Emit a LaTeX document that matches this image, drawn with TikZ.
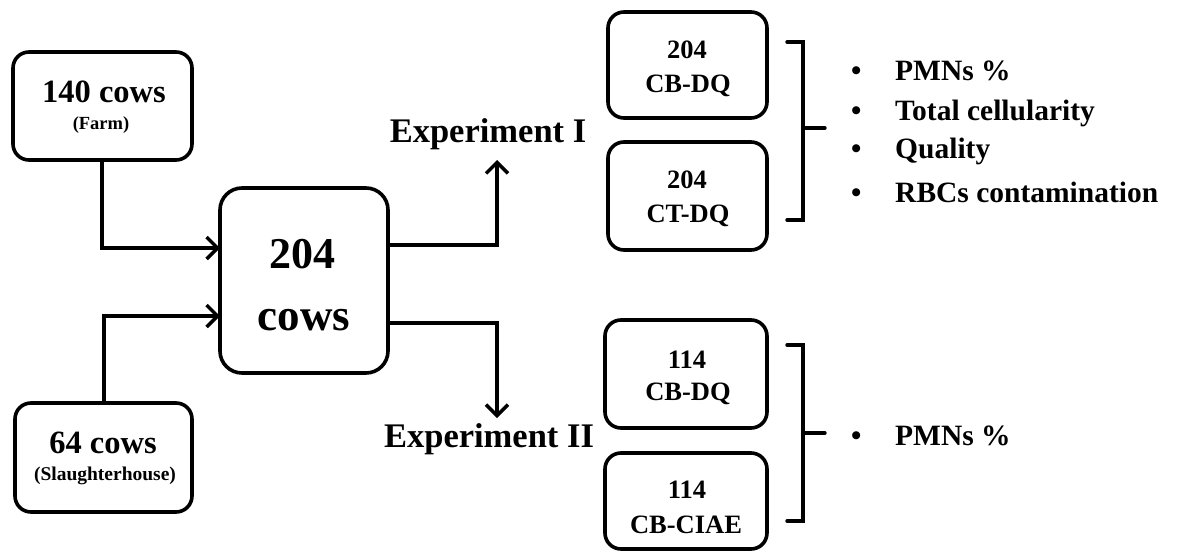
\documentclass[tikz,border=0pt]{standalone}
\usepackage{fontspec}
\setmainfont{Liberation Serif}
\usetikzlibrary{arrows.meta}
\begin{document}
\begin{tikzpicture}[x=1pt,y=-1pt,
  box/.style={draw,line width=3.6pt,rounded corners=16pt,inner sep=0pt},
  lbl/.style={inner sep=0pt,anchor=base,font=\bfseries},
  item/.style={inner sep=0pt,anchor=base west,font=\bfseries\fontsize{29.5}{32}\selectfont},
  conn/.style={line width=3.4pt},
  arr/.style={conn,-{Straight Barb[length=11pt,width=22pt]}},
  brk/.style={line width=3.4pt,line cap=round}]
\fill[white] (0,0) rectangle (1179,557);
\useasboundingbox (0,0) rectangle (1179,557);
% boxes
\node[box,minimum width=179pt,minimum height=108pt] (farm) at (102.5,106) {};
\node[box,minimum width=177pt,minimum height=109pt] (slaug) at (103.5,457.5) {};
\node[box,rounded corners=22pt,minimum width=168pt,minimum height=185pt] (main) at (304,280.5) {};
\node[box,minimum width=159pt,minimum height=106pt] (b1) at (687.5,65) {};
\node[box,minimum width=159pt,minimum height=108pt] (b2) at (687.5,196) {};
\node[box,minimum width=162pt,minimum height=108pt] (b3) at (686,374) {};
\node[box,minimum width=162pt,minimum height=96pt] (b4) at (686,501) {};
% box texts
\node[lbl,font=\bfseries\fontsize{32.5}{34}\selectfont] (t1) at (104,102) {140 cows};
\node[lbl,font=\bfseries\fontsize{18.5}{20}\selectfont] (t2) at (101,129) {(Farm)};
\node[lbl,font=\bfseries\fontsize{32.5}{34}\selectfont] (t3) at (103,453) {64 cows};
\node[lbl,font=\bfseries\fontsize{19.5}{21}\selectfont] (t4) at (105,480) {(Slaughterhouse)};
\node[lbl,font=\bfseries\fontsize{44}{45}\selectfont] (t5) at (302,268) {204};
\node[lbl,font=\bfseries\fontsize{45}{46}\selectfont] (t6) at (304,330) {cows};
\node[lbl,font=\bfseries\fontsize{26.5}{28}\selectfont] (t7) at (687,58) {204};
\node[lbl,font=\bfseries\fontsize{26.5}{28}\selectfont] (t8) at (688,92) {CB-DQ};
\node[lbl,font=\bfseries\fontsize{26.5}{28}\selectfont] (t9) at (687,188) {204};
\node[lbl,font=\bfseries\fontsize{26.5}{28}\selectfont] (t10) at (688,222) {CT-DQ};
\node[lbl,font=\bfseries\fontsize{26.5}{28}\selectfont] (t11) at (687,368) {114};
\node[lbl,font=\bfseries\fontsize{26.5}{28}\selectfont] (t12) at (688,400) {CB-DQ};
\node[lbl,font=\bfseries\fontsize{26.5}{28}\selectfont] (t13) at (687,498) {114};
\node[lbl,font=\bfseries\fontsize{26.5}{28}\selectfont] (t14) at (686,533) {CB-CIAE};
% experiment labels
\node[lbl,font=\bfseries\fontsize{34.5}{36}\selectfont] (exp1) at (488,142) {Experiment I};
\node[lbl,font=\bfseries\fontsize{34.5}{36}\selectfont] (exp2) at (489,447) {Experiment II};
% connectors
\coordinate (inA) at (220,248);
\coordinate (inB) at (220,316);
\coordinate (outA) at (388,245);
\coordinate (tipA) at (497,160);
\coordinate (outB) at (388,323);
\coordinate (tipB) at (497,418);
\draw[arr] (farm.south -| 102,0) |- (inA);
\draw[arr] (slaug.north -| 104,0) |- (inB);
\draw[arr] (outA) -| (tipA);
\draw[arr] (outB) -| (tipB);
% brackets
\coordinate (k1a) at (787,42); \coordinate (k1b) at (803,42);
\coordinate (k1c) at (803,220); \coordinate (k1d) at (787,220);
\coordinate (k1m) at (803,128); \coordinate (k1t) at (825,128);
\draw[brk] (k1a) -- (k1b) -- (k1c) -- (k1d);
\draw[brk] (k1m) -- (k1t);
\coordinate (k2a) at (787,345); \coordinate (k2b) at (803,345);
\coordinate (k2c) at (803,521); \coordinate (k2d) at (787,521);
\coordinate (k2m) at (803,433); \coordinate (k2t) at (825,433);
\draw[brk] (k2a) -- (k2b) -- (k2c) -- (k2d);
\draw[brk] (k2m) -- (k2t);
% bullet lists
\node[item] (u1) at (851,80) {•};
\node[item] (i1) at (895,80) {PMNs \%};
\node[item] (u2) at (851,120) {•};
\node[item] (i2) at (895,120) {Total cellularity};
\node[item] (u3) at (851,158) {•};
\node[item] (i3) at (895,158) {Quality};
\node[item] (u4) at (851,202) {•};
\node[item] (i4) at (895,202) {RBCs contamination};
\node[item] (u5) at (851,445) {•};
\node[item] (i5) at (895,445) {PMNs \%};
\end{tikzpicture}
\end{document}
